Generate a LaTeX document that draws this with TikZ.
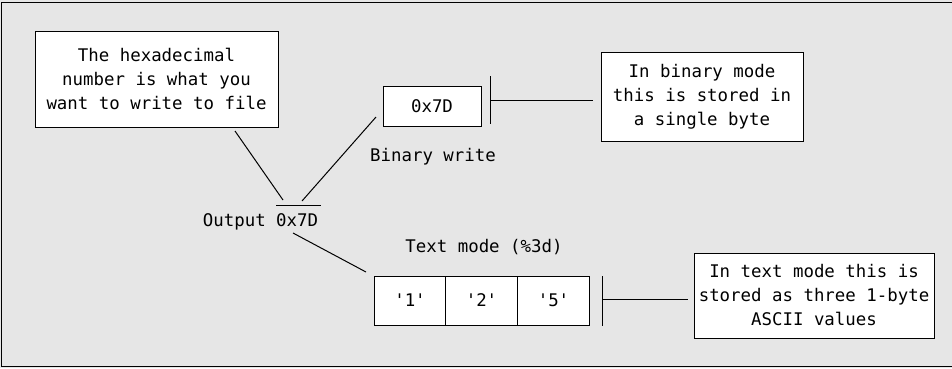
\documentclass[tikz,border=0pt]{standalone}
\usepackage{fontspec}
\setmainfont{DejaVu Sans Mono}
\definecolor{bg}{RGB}{230,230,230}
\begin{document}
\begin{tikzpicture}[x=1pt,y=-1pt,
  every node/.style={font=\fontsize{17.4}{24}\selectfont, inner sep=0pt},
  box/.style={draw=black, fill=white, line width=1pt, align=center},
  cell/.style={draw=black, fill=white, line width=1pt, minimum width=72pt, minimum height=49pt},
  ln/.style={line width=1pt}]
\useasboundingbox (0,0) rectangle (952,368);
\fill[bg] (0,0) rectangle (952,368);
\draw[line width=1.2pt] (1.5,2.5) rectangle (960,366.5);
% boxes
\node[box, minimum width=243pt, minimum height=96pt] (hex) at (156.5,79) {The hexadecimal\\number is what you\\want to write to file};
\node[box, minimum width=98pt, minimum height=40pt] (bin) at (432,106) {0x7D};
\node[box, minimum width=202pt, minimum height=89pt] (binnote) at (702,96.5) {In binary mode\\this is stored in\\a single byte};
\node[box, minimum width=240pt, minimum height=85pt] (txtnote) at (814,295.5) {In text mode this is\\stored as three 1-byte\\ASCII values};
% labels
\node (bwlabel) at (433,157) {Binary write};
\node[anchor=base east] (outlabel) at (266,226) {Output};
\node[anchor=base west] (outval) at (276,226) {0x7D};
\node (tmlabel) at (484,247) {Text mode (\%3d)};
% cells
\node[cell] (c1) at (410,300.5) {\textquotesingle1\textquotesingle};
\node[cell] (c2) at (481.5,300.5) {\textquotesingle2\textquotesingle};
\node[cell] (c3) at (553.5,300.5) {\textquotesingle5\textquotesingle};
% overline
\draw[ln] (276,205) coordinate (ovl) -- (321,205) coordinate (ovr);
% connectors
\coordinate (h1) at (235,131);
\coordinate (h2) at (283,200);
\draw[ln] (h1) -- (h2);
\coordinate (b1) at (376,117);
\coordinate (b2) at (302,201);
\draw[ln] (b1) -- (b2);
\coordinate (t1) at (293,233);
\coordinate (t2) at (366,272);
\draw[ln] (t1) -- (t2);
% bar 1
\coordinate (bar1t) at (490,76);
\coordinate (bar1b) at (490,124);
\coordinate (bar1m) at (490,100);
\coordinate (bar1e) at (593,100);
\draw[ln] (bar1t) -- (bar1b);
\draw[ln] (bar1m) -- (bar1e);
% bar 2
\coordinate (bar2t) at (602,276);
\coordinate (bar2b) at (602,326);
\coordinate (bar2m) at (602,299);
\coordinate (bar2e) at (688,299);
\draw[ln] (bar2t) -- (bar2b);
\draw[ln] (bar2m) -- (bar2e);
\end{tikzpicture}
\end{document}
